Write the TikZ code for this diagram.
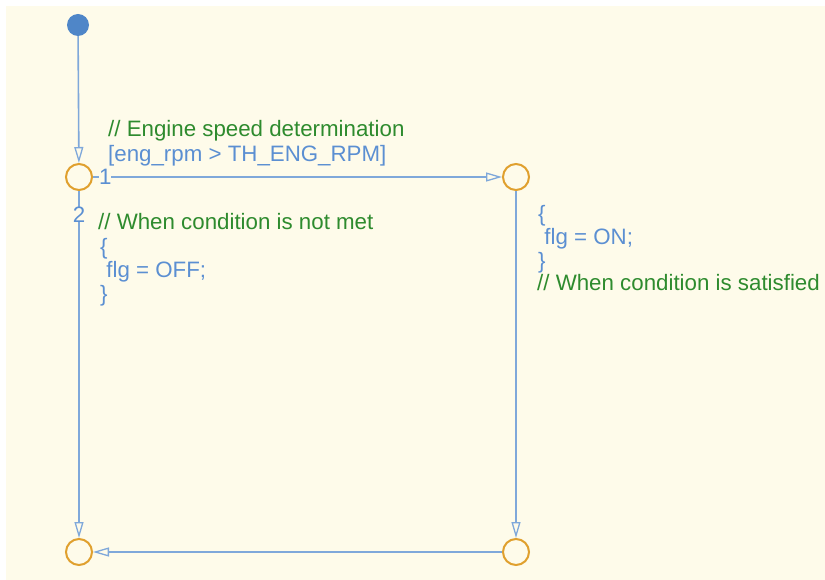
\documentclass[tikz,border=0pt]{standalone}
\usepackage{fontspec}
\setmainfont{Liberation Sans}
\usepackage{xcolor}
\usetikzlibrary{arrows.meta,positioning}

\definecolor{chartbg}{HTML}{FEFBEA}
\definecolor{transblue}{HTML}{5B8FD2}
\definecolor{linkblue}{HTML}{7FA8DA}
\definecolor{juncorange}{HTML}{E0A02E}
\definecolor{commentgreen}{HTML}{2E8B2E}
\definecolor{dotblue}{HTML}{4F86C8}

\begin{document}
\begin{tikzpicture}[x=1pt,y=-1pt,
      junc/.style={circle, draw=juncorange, line width=2pt, inner sep=0pt, minimum size=26pt},
      code/.style={text=transblue, font=\fontsize{22.3}{23.5}\selectfont, align=left, inner sep=0pt, anchor=north west},
      cmt/.style={text=commentgreen, font=\fontsize{22.3}{23.5}\selectfont, inner sep=0pt, anchor=north west},
      num/.style={text=transblue, font=\fontsize{22.3}{23.5}\selectfont, fill=chartbg, inner sep=0pt},
      tr/.style={draw=linkblue, line width=1.6pt, -{Triangle[open, length=16pt, width=9pt, line width=1.3pt]}},
      >=Stealth]
    \fill[white] (0,0) rectangle (825,580);
    \fill[chartbg] (6,6) rectangle (825,580);
    \useasboundingbox (0,0) rectangle (825,580);
    % default transition and junctions
    \node[circle, fill=dotblue, inner sep=0pt, minimum size=22pt] (start) at (78,25) {};
    \node[junc] (j1) at (79,177) {};
    \node[junc] (j2) at (516,177) {};
    \node[junc] (j3) at (79,552) {};
    \node[junc] (j4) at (516,552) {};
    \draw[tr] (start) -- (j1);
    \draw[tr] (j1) -- node[num, pos=0.03] {1} (j2);
    \draw[tr] (j1) -- node[num, pos=0.068] {2} (j3);
    \draw[tr] (j2) -- (j4);
    \draw[tr] (j4) -- (j3);
    % labels of transition 1
    \node[cmt] (c1) at (108,120) {// Engine speed determination};
    \node[code] (g1) at (108,145) {[eng\_rpm > TH\_ENG\_RPM]};
    % labels of transition 2
    \node[cmt] (c2) at (98,213) {// When condition is not met};
    \node[code] (a2) at (100,238) {\{\\\ flg = OFF;\\\}};
    % labels of the right transition
    \node[code] (a3) at (538,205) {\{\\\ flg = ON;\\\}};
    \node[cmt] (c3) at (537,274) {// When condition is satisfied};
  \end{tikzpicture}
\end{document}
